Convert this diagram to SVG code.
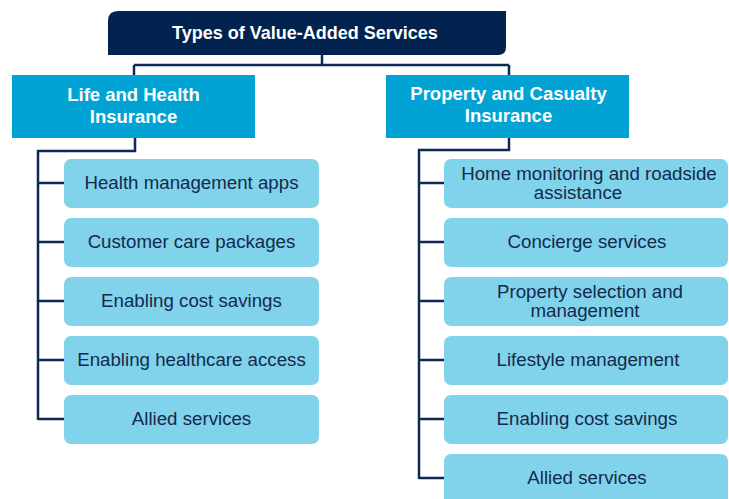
<svg xmlns="http://www.w3.org/2000/svg" width="729" height="499" viewBox="0 0 729 499">
<style>
.ln{fill:none;stroke:#0d2a54;stroke-width:2.5;stroke-linejoin:miter}
.child{fill:#80d3ea}
.ct{font-family:"Liberation Sans",Arial,sans-serif;font-size:18.7px;fill:#15294d;text-anchor:middle}
.cat{fill:#00a3d4}
.catt{font-family:"Liberation Sans",Arial,sans-serif;font-size:18.5px;font-weight:bold;fill:#ffffff;text-anchor:middle}
</style>
<rect width="729" height="499" fill="#ffffff"/>
<g id="connectors">
<path class="ln" d="M322,55 V65 M134,65 H509 M134,65 V75 M509,65 V75"/>
<path class="ln" d="M135,138 V151 H38 V420 M38,183 H64 M38,242 H64 M38,301 H64 M38,360 H64 M38,419 H64"/>
<path class="ln" d="M509,138 V150 H419 V479 M419,183 H444 M419,242 H444 M419,301 H444 M419,360 H444 M419,419 H444 M419,478 H444"/>
</g>
<g id="root">
<path d="M118,11 H506 V47 Q506,55 498,55 H108 V21 Q108,11 118,11 Z" fill="#02234f"/>
<text x="305" y="38.5" font-family="'Liberation Sans',Arial,sans-serif" font-size="18" font-weight="bold" fill="#ffffff" text-anchor="middle">Types of Value-Added Services</text>
</g>
<g id="life">
<rect class="cat" x="12" y="75" width="243" height="63"/>
<text class="catt" x="133.5" y="100.5">Life and Health</text>
<text class="catt" x="133.5" y="122.5">Insurance</text>
</g>
<g id="property">
<rect class="cat" x="386" y="75" width="243" height="63"/>
<text class="catt" x="508.5" y="99.5">Property and Casualty</text>
<text class="catt" x="508.5" y="121.5">Insurance</text>
</g>
<g id="l1"><rect class="child" x="64" y="159" width="255" height="49" rx="7"/><text class="ct" x="191.5" y="189">Health management apps</text></g>
<g id="l2"><rect class="child" x="64" y="218" width="255" height="49" rx="7"/><text class="ct" x="191.5" y="248">Customer care packages</text></g>
<g id="l3"><rect class="child" x="64" y="277" width="255" height="49" rx="7"/><text class="ct" x="191.5" y="307">Enabling cost savings</text></g>
<g id="l4"><rect class="child" x="64" y="336" width="255" height="49" rx="7"/><text class="ct" x="191.5" y="366">Enabling healthcare access</text></g>
<g id="l5"><rect class="child" x="64" y="395" width="255" height="49" rx="7"/><text class="ct" x="191.5" y="425">Allied services</text></g>
<g id="r1"><rect class="child" x="444" y="159" width="284" height="49" rx="7"/><text class="ct" x="589" y="180">Home monitoring and roadside</text><text class="ct" x="578" y="199">assistance</text></g>
<g id="r2"><rect class="child" x="444" y="218" width="284" height="49" rx="7"/><text class="ct" x="587" y="248">Concierge services</text></g>
<g id="r3"><rect class="child" x="444" y="277" width="284" height="49" rx="7"/><text class="ct" x="590" y="298">Property selection and</text><text class="ct" x="585" y="317">management</text></g>
<g id="r4"><rect class="child" x="444" y="336" width="284" height="49" rx="7"/><text class="ct" x="588" y="366">Lifestyle management</text></g>
<g id="r5"><rect class="child" x="444" y="395" width="284" height="49" rx="7"/><text class="ct" x="587" y="425">Enabling cost savings</text></g>
<g id="r6"><rect class="child" x="444" y="454" width="284" height="54" rx="7"/><text class="ct" x="587" y="484">Allied services</text></g>
</svg>
